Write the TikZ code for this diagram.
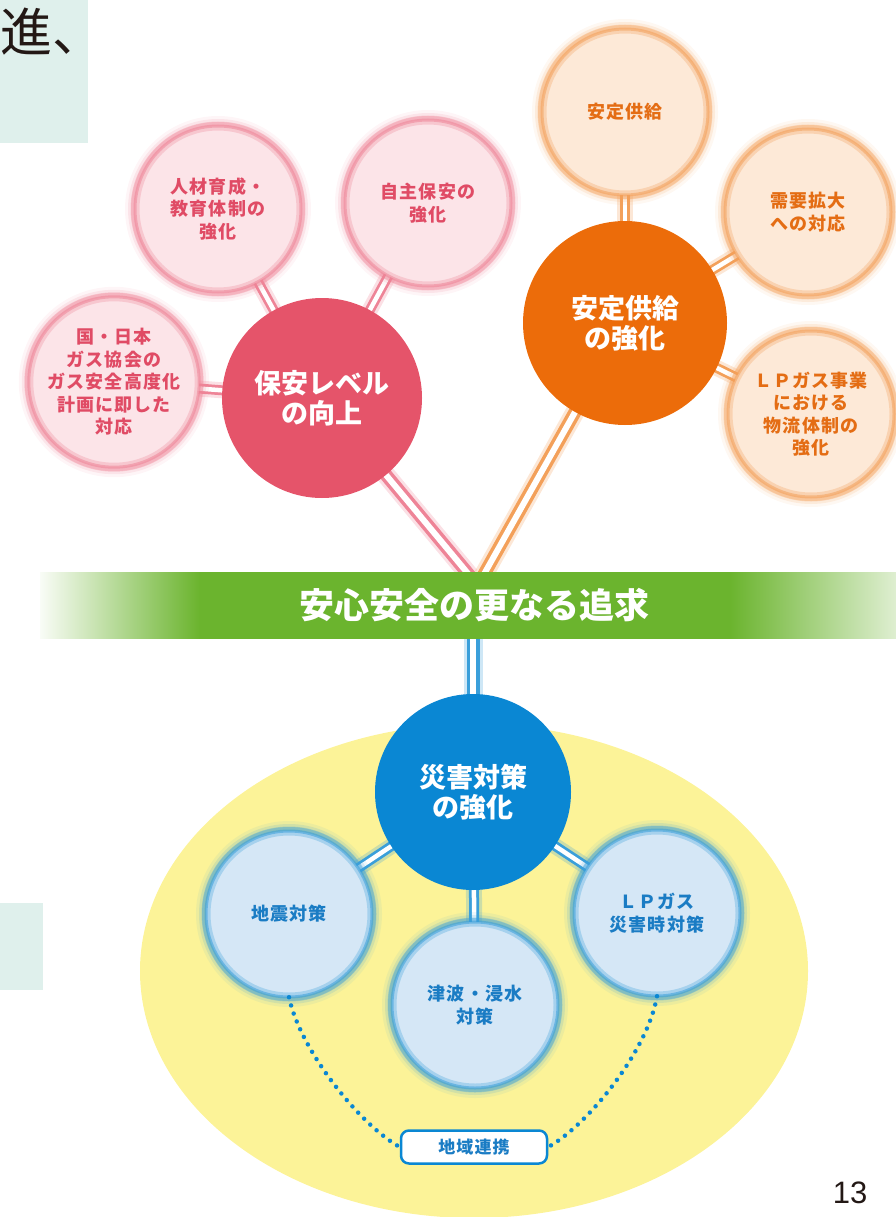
\documentclass[tikz,border=0pt]{standalone}
\usepackage{fontspec}
\setmainfont{Liberation Sans}
\newfontfamily\jp{Noto Sans CJK JP}
\newfontfamily\jps{Noto Sans CJK JP}[LetterSpace=6]
\usetikzlibrary{backgrounds}
\pgfdeclarelayer{bgzero}
\pgfdeclarelayer{bgone}
\pgfsetlayers{bgzero,bgone,main}
\definecolor{pinkM}{HTML}{E5546A}
\definecolor{pinkL}{HTML}{FCE4E8}
\definecolor{pinkG}{HTML}{EE8497}
\definecolor{pinkT}{HTML}{E04B65}
\definecolor{orM}{HTML}{EC6C0A}
\definecolor{orL}{HTML}{FDE9D7}
\definecolor{orG}{HTML}{F3A05A}
\definecolor{orT}{HTML}{E46D14}
\definecolor{blM}{HTML}{0A87D3}
\definecolor{blL}{HTML}{D5E7F6}
\definecolor{blG}{HTML}{3A9FDA}
\definecolor{blT}{HTML}{1A7CC4}
\definecolor{grn}{HTML}{6BB42E}
\definecolor{ylw}{HTML}{FCF398}
\definecolor{tealbg}{HTML}{DFF0EC}
\definecolor{ink}{HTML}{231815}
\pgfdeclarehorizontalshading{bannershade}{100bp}{color(0bp)=(grn!4); color(25bp)=(grn!4); color(34.3bp)=(grn); color(65.3bp)=(grn); color(75bp)=(grn!22); color(100bp)=(grn!22)}
\tikzset{
  glow/.style={
    preaction={draw=#1,line width=20pt,opacity=0.08},
    preaction={draw=#1,line width=14pt,opacity=0.15},
    preaction={draw=#1,line width=8pt,opacity=0.30},
    postaction={draw=#1,line width=9pt,opacity=0.30},
    postaction={draw=#1,line width=3pt,opacity=0.55}},
  subc/.style={circle, inner sep=0pt, minimum size=166pt, align=center,
    font=\jps\bfseries\fontsize{18}{22.5}\selectfont},
  subpink/.style={subc, fill=pinkL, text=pinkT, glow=pinkG},
  suborange/.style={subc, fill=orL, text=orT, glow=orG},
  subblue/.style={subc, fill=blL, text=blT, glow=blG},
  mainc/.style={circle, inner sep=0pt, minimum size=#1, align=center, text=white,
    font=\jp\bfseries\fontsize{27}{30}\selectfont},
  link/.style={draw=#1, line width=10pt,
    preaction={draw=#1, line width=16pt, opacity=0.25},
    postaction={draw=white, line width=4.5pt}},
  trunk/.style={draw=#1, line width=13pt,
    preaction={draw=#1, line width=19pt, opacity=0.25},
    postaction={draw=white, line width=6pt}},
  dotline/.style={draw=blM, line width=4.5pt, line cap=round, dash pattern=on 0pt off 8.5pt},
}
\begin{document}
\begin{tikzpicture}[x=1pt,y=-1pt]
\useasboundingbox (0,0) rectangle (896,1217);

% background panels
\begin{pgfonlayer}{bgzero}
  \fill[tealbg] (0,0) rectangle (88,143);
  \fill[tealbg] (0,903) rectangle (43,990);
  \fill[ylw] (474,971) ellipse [x radius=334pt, y radius=247pt];
\end{pgfonlayer}
\node[anchor=base west, inner sep=0pt, text=ink,
      font=\jp\fontsize{52}{52}\selectfont] (head) at (0,52) {進、};

% main circles
\node[mainc=200pt, fill=pinkM] (pm) at (322,398) {保安レベル\\の向上};
\node[mainc=204pt, fill=orM]   (om) at (625,323) {安定供給\\の強化};
\node[mainc=196pt, fill=blM]   (bm) at (473,792) {災害対策\\の強化};

% pink subs
\node[subpink] (p1) at (114,382) {国・日本\\ガス協会の\\ガス安全高度化\\計画に即した\\対応};
\node[subpink] (p2) at (218,209) {人材育成・\\教育体制の\\強化};
\node[subpink] (p3) at (428,203) {自主保安の\\強化};

% orange subs
\node[suborange] (o1) at (625,112) {安定供給};
\node[suborange] (o2) at (808,212) {需要拡大\\への対応};
\node[suborange] (o3) at (811,414) {ＬＰガス事業\\における\\物流体制の\\強化};

% blue subs
\node[subblue] (b1) at (289,914) {地震対策};
\node[subblue] (b2) at (475,1005) {\raisebox{-10pt}{\parbox{130pt}{\centering 津波・浸水\\対策}}};
\node[subblue] (b3) at (657,913) {ＬＰガス\\災害時対策};

% banner
\shade[shading=bannershade] (40,572) rectangle (896,638);
\node[text=white, font=\jp\bfseries\fontsize{35}{35}\selectfont] (banner) at (474,605) {安心安全の更なる追求};

% connectors
\coordinate (vp) at (470,576);
\coordinate (vo) at (483,576);
\coordinate (bt) at (bm.center |- banner.center);
\begin{pgfonlayer}{bgone}
  \draw[link=pinkG] (pm.center) -- (p1.center);
  \draw[link=pinkG] (pm.center) -- (p2.center);
  \draw[link=pinkG] (pm.center) -- (p3.center);
  \draw[link=orG] (om.center) -- (o1.center);
  \draw[link=orG] (om.center) -- (o2.center);
  \draw[link=orG] (om.center) -- (o3.center);
  \draw[link=blG] (bm.center) -- (b1.center);
  \draw[link=blG] (bm.center) -- (b2.center);
  \draw[link=blG] (bm.center) -- (b3.center);
  \draw[trunk=pinkG] (pm.center) -- (vp);
  \draw[trunk=orG] (om.center) -- (vo);
  \draw[trunk=blG] (bt) -- (bm.center);
\end{pgfonlayer}

% regional cooperation
\node[draw=blM, line width=2.5pt, fill=white, rounded corners=8pt,
      minimum width=146pt, minimum height=33pt, text=blT,
      font=\jps\bfseries\fontsize{17}{17}\selectfont] (kr) at (474,1147) {地域連携};
\draw[dotline] (b1.south) .. controls (300,1050) and (360,1125) .. (kr.west);
\draw[dotline] (b3.south) .. controls (648,1050) and (588,1125) .. (kr.east);

% page number
\node[text=ink, font=\fontsize{31}{31}\selectfont] (pg) at (850,1193) {13};
\end{tikzpicture}
\end{document}
